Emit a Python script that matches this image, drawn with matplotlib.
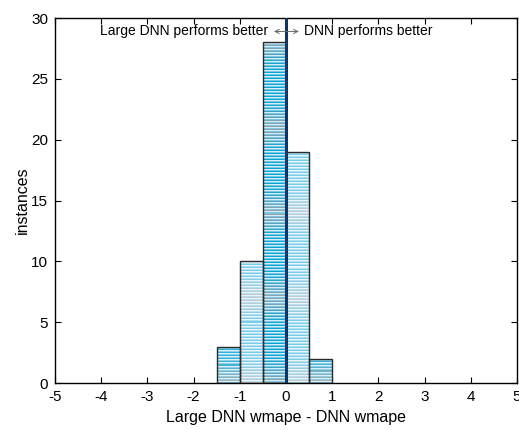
import numpy as np
import matplotlib
matplotlib.use('Agg')
import matplotlib.pyplot as plt

# histogram of (large DNN wmape - DNN wmape), bin width 0.5
bin_edges = [-1.5, -1.0, -0.5, 0.0, 0.5, 1.0]
counts = [3, 10, 28, 19, 2]
# how pale each bar's stripes look
paleness = [0.15, 0.45, 0.0, 0.45, 0.15]

plt.rcParams['font.family'] = ['Liberation Sans', 'DejaVu Sans']
plt.rcParams['axes.unicode_minus'] = False

fig = plt.figure(figsize=(5.19, 4.3), dpi=100)
ax = fig.add_axes([0.106, 0.109, 0.890, 0.849])

base = np.array([124, 198, 226]) / 255
cyan = np.array([0, 168, 220]) / 255
gray = np.array([150, 160, 168]) / 255
white = np.ones(3)

bars = ax.bar(bin_edges[:-1], counts, width=0.5, align='edge',
              facecolor='none', edgecolor='#2a2a2a', linewidth=1.0, zorder=3)

px_per_unit = 365 / 30
for patch, h, pale in zip(bars.patches, counts, paleness):
    x0 = patch.get_x()
    nrows = max(int(h * px_per_unit), 2)
    ys = np.linspace(h, 0, nrows)
    t = (0.5 + 0.5 * np.cos(2 * np.pi * ys / 7.0)) ** 3
    stripe_col = (1 - t)[:, None] * cyan + t[:, None] * gray
    rows = np.tile(base, (nrows, 1))
    k = np.arange(nrows) % 3
    rows[k == 0] = stripe_col[k == 0]
    rows[k == 1] = 0.7 * white + 0.3 * base
    rows = (1 - pale) * rows + pale * white
    img = np.repeat(rows[:, None, :], 4, axis=1)
    im = ax.imshow(img, extent=[x0, x0 + 0.5, 0, h], aspect='auto',
                   interpolation='nearest', zorder=2)
    im.set_clip_path(patch)

ax.axvline(0, color='#0a3570', linewidth=2.2, zorder=4)

ax.text(-0.39, 28.9, 'Large DNN performs better', ha='right', va='center', fontsize=10)
ax.annotate('', xy=(-0.26, 28.9), xytext=(0.28, 28.9),
            arrowprops=dict(arrowstyle='<->,head_length=0.3,head_width=0.15',
                            color='#666666', lw=0.7, shrinkA=0, shrinkB=0),
            zorder=5)
ax.text(0.39, 28.9, 'DNN performs better', ha='left', va='center', fontsize=10)

ax.set_xlim(-5, 5)
ax.set_ylim(0, 30)
ax.set_xticks(range(-5, 6))
ax.set_yticks(range(0, 31, 5))
ax.tick_params(direction='in', top=True, right=True, labelsize=11, length=4, pad=5)
for s in ax.spines.values():
    s.set_linewidth(1.0)
ax.set_xlabel('Large DNN wmape - DNN wmape', fontsize=11.5, labelpad=4)
ax.set_ylabel('instances', fontsize=11.5, labelpad=1)

fig.savefig('out.png', dpi=100)
